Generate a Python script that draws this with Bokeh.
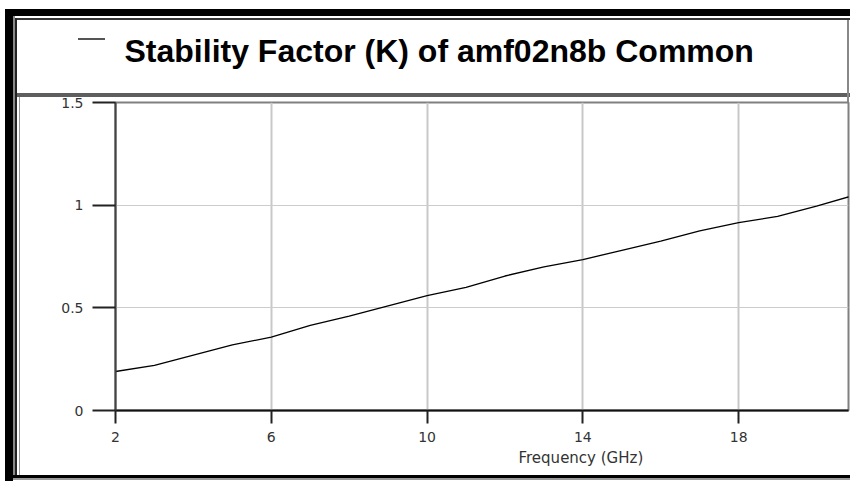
from bokeh.plotting import figure
from bokeh.models import FixedTicker, Range1d, Title
from bokeh.embed import file_html
from bokeh.resources import INLINE

# ---- data ----
freq_ghz = [2, 3, 4, 5, 6, 7, 8, 9, 10, 11, 12, 13, 14, 15, 16, 17, 18, 19, 20, 21]
k_factor = [0.19, 0.22, 0.27, 0.32, 0.357, 0.415, 0.46, 0.51, 0.56, 0.60,
            0.655, 0.70, 0.735, 0.78, 0.825, 0.875, 0.915, 0.945, 0.995, 1.05]
x_ticks = [2, 6, 10, 14, 18]
y_ticks = [0, 0.5, 1, 1.5]
title_text = "Stability Factor (K) of amf02n8b Common"
x_label = "Frequency (GHz)"

W, H = 850, 481
FL, FR, FT, FB = 115, 848, 102, 410          # frame edges in pixels

# decorative frame of the panel: (x, y, w, h, colour) in pixels
deco = [
    (5, 9, 8, 472, "#000000"),      # outer left bar
    (5, 9, 845, 7, "#000000"),      # outer top bar
    (13, 475, 837, 3, "#000000"),   # outer bottom bar
    (13, 478, 837, 2, "#999999"),
    (13, 16, 2, 461, "#888888"),
    (15, 18, 2, 459, "#222222"),    # inner frame left
    (15, 18, 835, 2, "#333333"),    # inner frame top
    (847, 18, 2, 84, "#888888"),    # inner frame right (title zone)
    (17, 93, 833, 4, "#5e5e5e"),    # title separator
    (19, 97, 1, 378, "#999999"),
    (78, 38, 27, 2, "#555555"),     # legend dash
]
bg = {
    "background-color": "white",
    "background-image": ", ".join(f"linear-gradient({c}, {c})" for *_, c in deco),
    "background-position": ", ".join(f"{x}px {y}px" for x, y, *_ in deco),
    "background-size": ", ".join(f"{w}px {h}px" for _, _, w, h, _ in deco),
    "background-repeat": "no-repeat",
}

p = figure(width=W, height=H, output_backend="svg", toolbar_location=None,
           x_range=Range1d(2, 20.82), y_range=Range1d(0, 1.5),
           min_border_left=FL, min_border_right=W - FR, min_border_top=FT,
           min_border_bottom=H - FB, title=None, styles=bg)
p.background_fill_color = "white"
p.border_fill_color = None
p.outline_line_color = "#808080"
p.outline_line_width = 2

# grid
p.xgrid.ticker = FixedTicker(ticks=x_ticks)
p.xgrid.grid_line_color = "#c8c8c8"
p.xgrid.grid_line_width = 2
p.ygrid.ticker = FixedTicker(ticks=y_ticks)
p.ygrid.grid_line_color = "#cccccc"
p.ygrid.grid_line_width = 1

# axes
for ax in (p.xaxis[0], p.yaxis[0]):
    ax.major_tick_in = 0
    ax.minor_tick_in = 0
    ax.minor_tick_out = 0
    ax.major_tick_line_width = 2
    ax.major_tick_line_color = "#222222"
    ax.axis_line_width = 2
    ax.major_label_text_font = "DejaVu Sans"
    ax.major_label_text_font_size = "14px"
    ax.major_label_text_color = "#333333"

p.xaxis.ticker = FixedTicker(ticks=x_ticks)
p.xaxis.major_tick_out = 13
p.xaxis.major_label_standoff = 8
p.xaxis.axis_line_color = "#111111"

p.yaxis.ticker = FixedTicker(ticks=y_ticks)
p.yaxis.major_tick_out = 23
p.yaxis.major_label_standoff = 9
p.yaxis.axis_line_color = "#444444"

# series
p.line(freq_ghz, k_factor, line_color="black", line_width=1.3)

# title
p.add_layout(Title(text=title_text, align="left", offset=9,
                   vertical_align="top", standoff=63,
                   text_font="Liberation Sans", text_font_style="bold",
                   text_font_size="32px", text_color="black"), "above")

# x axis label (centred under 14 GHz as in the original wider axis)
p.add_layout(Title(text=x_label, align="left", offset=403, standoff=4,
                   text_font="DejaVu Sans", text_font_style="normal",
                   text_font_size="15px", text_color="#333333"), "below")

open("out.html", "w").write(file_html(p, INLINE))
